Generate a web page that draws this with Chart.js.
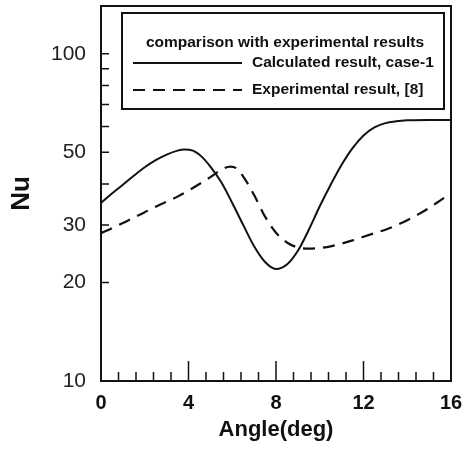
<!DOCTYPE html>
<html>
<head>
<meta charset="utf-8">
<script src="https://cdn.jsdelivr.net/npm/chart.js@4.4.1/dist/chart.umd.min.js"></script>
<style>
  html, body { margin: 0; padding: 0; background: #fff; }
  #wrap { width: 467px; height: 454px; }
</style>
</head>
<body>
<div id="wrap"><canvas id="nuChart" width="467" height="454"></canvas></div>
<script>
// angle (deg) and Nu
var calcAngle = [0, 0.5, 1, 1.5, 2, 2.5, 3, 3.5, 3.8, 4.2, 4.6, 5, 5.5, 6, 6.5, 7, 7.5, 8, 8.5, 9, 9.5, 10, 10.5, 11, 11.5, 12, 12.5, 13, 13.5, 14, 15, 16];
var calcNu = [35, 37.4, 39.8, 42.4, 45.0, 47.3, 49.2, 50.6, 51.0, 50.6, 48.5, 45.2, 40.5, 35.0, 30.0, 25.8, 23.1, 22.0, 22.7, 25.0, 29.0, 34.2, 39.8, 45.8, 51.5, 56.3, 59.6, 61.4, 62.2, 62.6, 62.8, 62.8];

var expAngle = [0, 0.5, 1, 1.5, 2, 2.5, 3, 3.5, 4, 4.5, 5, 5.5, 5.9, 6.2, 6.6, 7, 7.5, 8, 8.5, 9, 9.5, 10, 10.5, 11, 11.5, 12, 12.5, 13, 13.5, 14, 14.5, 15, 15.5, 16];
var expNu = [28.3, 29.3, 30.4, 31.6, 32.8, 34.1, 35.3, 36.6, 38.2, 40.0, 42.0, 44.2, 45.2, 44.6, 41.2, 37.0, 31.8, 28.4, 26.5, 25.6, 25.4, 25.5, 25.8, 26.3, 26.9, 27.6, 28.3, 29.0, 29.9, 31.0, 32.3, 33.8, 35.6, 37.5];

var yTickValues = [10, 20, 30, 40, 50, 60, 70, 80, 90, 100];
var yLabelled = [10, 20, 30, 50, 100];
var legendTitle = "comparison with experimental results";
var seriesNames = ["Calculated result, case-1", "Experimental result, [8]"];

function toPoints(xs, ys) {
  return xs.map(function (x, i) { return { x: x, y: ys[i] }; });
}

var FONT = '"Liberation Sans", Arial, sans-serif';

// ticks drawn inside the frame, the frame itself and the boxed legend
var framePlugin = {
  id: 'framePlugin',
  afterDraw: function (chart) {
    var ctx = chart.ctx;
    var a = chart.chartArea;
    var xs = chart.scales.x, ys = chart.scales.y;
    ctx.save();
    ctx.strokeStyle = '#111';
    ctx.lineWidth = 1.5;
    ctx.beginPath();
    xs.ticks.forEach(function (t) {
      var px = xs.getPixelForValue(t.value);
      if (px <= a.left + 1 || px >= a.right - 1) return;
      var major = Math.abs(t.value / 4 - Math.round(t.value / 4)) < 1e-6;
      ctx.moveTo(px, a.bottom);
      ctx.lineTo(px, a.bottom - (major ? 20 : 9));
    });
    ys.ticks.forEach(function (t) {
      var py = ys.getPixelForValue(t.value);
      if (py >= a.bottom - 1) return;
      ctx.moveTo(a.left, py);
      ctx.lineTo(a.left + 8, py);
    });
    ctx.stroke();

    ctx.lineWidth = 2;
    ctx.strokeRect(a.left, a.top, a.right - a.left, a.bottom - a.top);

    // legend box
    var bx = a.left + 21, by = a.top + 7, bw = 322, bh = 96;
    ctx.fillStyle = '#fff';
    ctx.fillRect(bx, by, bw, bh);
    ctx.lineWidth = 2;
    ctx.strokeRect(bx, by, bw, bh);
    ctx.fillStyle = '#111';
    ctx.font = 'bold 15.5px ' + FONT;
    ctx.textBaseline = 'middle';
    ctx.textAlign = 'center';
    ctx.fillText(legendTitle, bx + bw / 2 + 2, by + 30);
    ctx.textAlign = 'left';
    var rows = [by + 50, by + 77];
    chart.data.datasets.forEach(function (ds, i) {
      ctx.beginPath();
      ctx.lineWidth = 2;
      ctx.setLineDash(ds.borderDash || []);
      ctx.moveTo(bx + 11, rows[i]);
      ctx.lineTo(bx + 120, rows[i]);
      ctx.stroke();
      ctx.setLineDash([]);
      ctx.fillText(ds.label, bx + 130, rows[i]);
    });
    ctx.restore();
  }
};

var ctx = document.getElementById('nuChart').getContext('2d');
var nuChart = new Chart(ctx, {
  type: 'line',
  data: {
    datasets: [{
      label: seriesNames[0],
      data: toPoints(calcAngle, calcNu),
      borderColor: '#111',
      borderWidth: 2,
      pointRadius: 0,
      cubicInterpolationMode: 'monotone',
      fill: false
    }, {
      label: seriesNames[1],
      data: toPoints(expAngle, expNu),
      borderColor: '#111',
      borderWidth: 2.2,
      borderDash: [12, 8],
      pointRadius: 0,
      cubicInterpolationMode: 'monotone',
      fill: false
    }]
  },
  options: {
    responsive: false,
    animation: false,
    devicePixelRatio: 1,
    layout: { padding: { top: 6, right: 16, bottom: 0, left: 0 } },
    plugins: {
      legend: { display: false },
      tooltip: { enabled: false }
    },
    scales: {
      x: {
        type: 'linear',
        min: 0,
        max: 16,
        grid: { display: false, drawTicks: false },
        border: { display: false },
        ticks: {
          stepSize: 0.8,
          autoSkip: false,
          maxRotation: 0,
          padding: 10,
          color: '#111',
          font: { family: FONT, size: 20, weight: 'bold' },
          callback: function (v) {
            return Math.abs(v / 4 - Math.round(v / 4)) < 1e-6 ? String(Math.round(v)) : '';
          }
        },
        title: {
          display: true,
          text: 'Angle(deg)',
          color: '#111',
          font: { family: FONT, size: 22, weight: 'bold' },
          padding: { top: 0, bottom: 11 }
        },
        afterFit: function (s) {
          s.height = 73;
          s.paddingLeft = 0;
          s.paddingRight = 0;
        }
      },
      y: {
        type: 'logarithmic',
        min: 10,
        max: 140,
        grid: { display: false, drawTicks: false },
        border: { display: false },
        afterBuildTicks: function (s) {
          s.ticks = yTickValues.map(function (v) { return { value: v }; });
        },
        ticks: {
          autoSkip: false,
          padding: 15,
          color: '#222',
          font: { family: FONT, size: 21 },
          callback: function (v) {
            return yLabelled.indexOf(v) >= 0 ? String(v) : '';
          }
        },
        title: {
          display: true,
          text: 'Nu',
          color: '#111',
          font: { family: FONT, size: 26, weight: 'bold' },
          padding: { top: 6, bottom: 0 }
        },
        afterFit: function (s) {
          s.width = 101;
          s.paddingTop = 0;
          s.paddingBottom = 0;
        }
      }
    }
  },
  plugins: [framePlugin]
});
</script>
</body>
</html>
